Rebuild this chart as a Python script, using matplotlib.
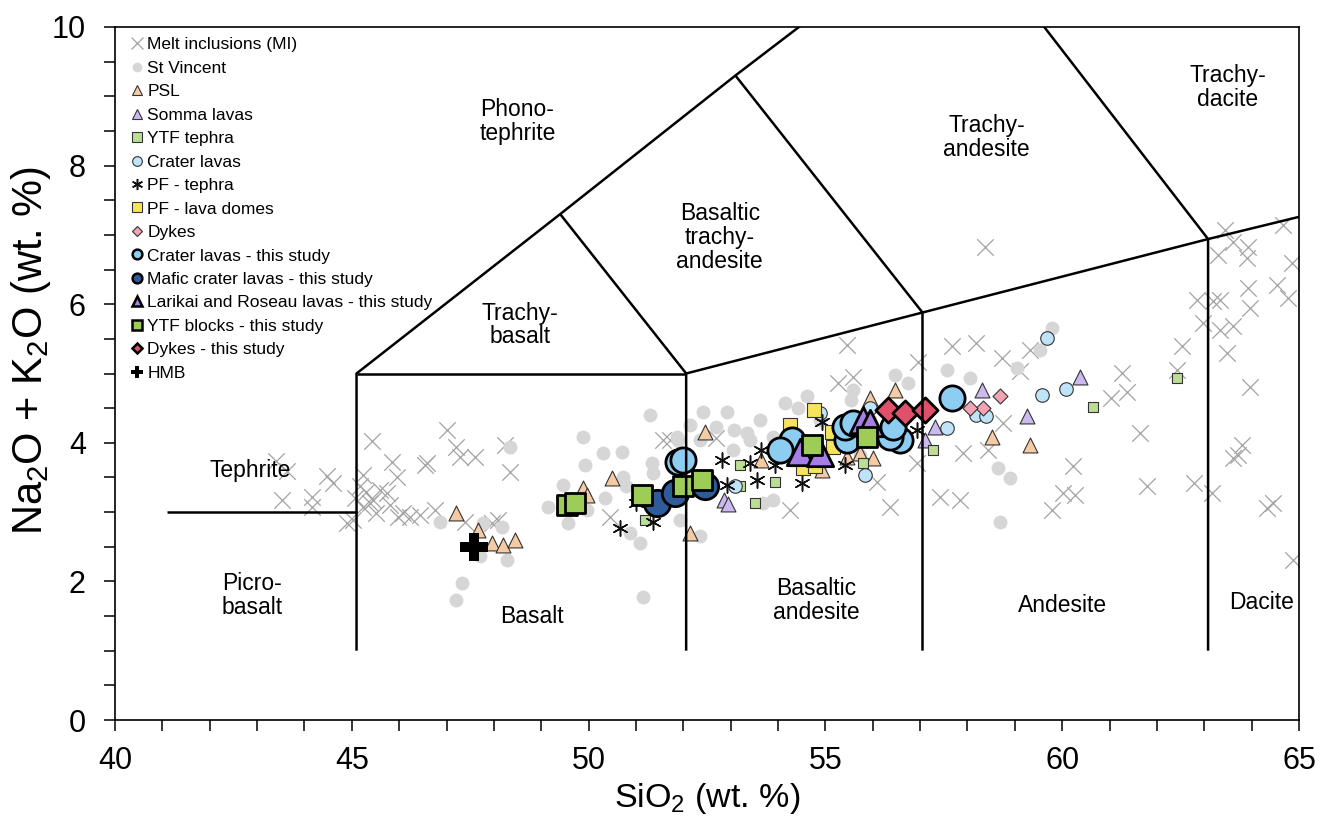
import matplotlib
matplotlib.use('Agg')
import matplotlib.pyplot as plt
from matplotlib.lines import Line2D

plt.rcParams['font.family'] = ['Liberation Sans', 'DejaVu Sans']
plt.rcParams['mathtext.fontset'] = 'custom'
plt.rcParams['mathtext.rm'] = 'Liberation Sans'
plt.rcParams['mathtext.it'] = 'Liberation Sans:italic'

# ---------------- data ----------------
mi_x = [43.39, 43.63, 43.52, 44.15, 44.47, 44.60, 44.15, 45.03, 45.42, 45.24, 45.45, 45.84, 45.95, 46.58,
        45.74, 45.52, 46.08, 46.44, 46.76, 45.24, 46.55, 47.00, 47.21, 47.28, 47.60, 48.23, 48.34, 45.17,
        45.38, 45.98, 46.23, 44.89, 47.95, 47.39, 48.09, 45.30, 45.60, 45.07, 45.81,
        50.45, 51.57, 51.72, 52.70,
        55.45, 55.58, 55.26, 54.25, 56.36, 56.08, 56.96, 56.93, 57.67, 58.19, 58.72, 59.11, 59.32, 57.91,
        58.43, 57.42, 57.84, 59.78, 58.75, 61.26, 61.04, 61.36, 61.64, 62.52, 62.42, 62.84, 62.97, 63.18,
        63.33, 63.33, 63.47, 63.61, 63.97, 63.29, 63.61, 63.92, 63.90, 63.92, 63.97, 64.53, 64.67, 64.85,
        64.77, 63.44, 60.23, 60.02, 60.27, 61.78, 62.79, 63.16, 63.79, 63.61, 63.71, 64.45, 64.32, 64.87,
        58.37]
mi_y = [3.74, 3.59, 3.17, 3.22, 3.52, 3.42, 3.08, 2.89, 4.02, 3.54, 3.17, 3.73, 3.51, 3.71,
        3.28, 2.99, 2.99, 2.96, 3.03, 3.07, 3.68, 4.18, 3.94, 3.80, 3.80, 3.97, 3.58, 3.37,
        3.13, 2.93, 2.93, 2.84, 2.84, 2.86, 2.89, 3.29, 3.32, 3.20, 3.10,
        2.93, 4.04, 4.04, 4.07,
        5.41, 4.95, 4.86, 3.03, 3.08, 3.44, 5.17, 3.71, 5.39, 5.44, 5.22, 5.03, 5.34, 3.85,
        3.90, 3.22, 3.17, 3.03, 4.29, 5.01, 4.65, 4.74, 4.14, 5.39, 5.05, 6.06, 5.73, 6.04,
        6.06, 5.63, 5.30, 5.68, 4.81, 6.71, 6.90, 6.83, 6.67, 6.23, 5.95, 6.28, 7.14, 6.59,
        6.09, 7.07, 3.66, 3.28, 3.25, 3.37, 3.42, 3.28, 3.97, 3.78, 3.82, 3.13, 3.06, 2.31,
        6.83]

sv_x = [48.34, 51.30, 52.42, 49.88, 50.30, 50.70, 49.92, 49.46, 49.14, 49.57, 49.96, 50.35, 50.73, 50.80,
        51.33, 51.89, 52.92, 53.06, 50.87, 51.09, 51.93, 51.15, 47.32, 47.21, 48.17, 48.27, 47.71, 46.86,
        47.77, 51.36, 52.35, 52.70, 53.34, 53.41, 54.15, 54.42, 54.61, 55.53, 55.58, 56.47, 56.74, 53.89,
        53.05, 51.86, 53.89, 53.68, 57.56, 58.05, 59.04, 59.53, 59.78, 58.64, 58.90, 58.69,
        53.62, 54.89, 55.94, 56.15, 52.35, 52.14, 54.89, 55.73]
sv_y = [3.94, 4.40, 4.45, 4.09, 3.85, 3.87, 3.68, 3.39, 3.08, 2.84, 3.03, 3.20, 3.51, 3.37,
        3.71, 4.04, 4.45, 4.18, 2.70, 2.55, 2.89, 1.78, 1.98, 1.73, 2.79, 2.31, 2.36, 2.86,
        2.84, 3.56, 2.65, 4.23, 4.14, 4.04, 4.57, 4.50, 4.67, 4.62, 4.76, 4.98, 4.86, 4.09,
        3.90, 4.09, 3.17, 3.13, 5.05, 4.94, 5.08, 5.34, 5.66, 3.64, 3.49, 2.86,
        4.33, 4.33, 4.33, 4.04, 4.04, 4.26, 3.61, 3.82]

psl_x = [47.21, 47.67, 47.95, 48.19, 48.45, 49.88, 49.96, 50.49, 52.46, 52.14, 53.65, 54.92, 55.73,
         56.01, 55.94, 56.47, 58.51, 59.32, 55.45]
psl_y = [2.98, 2.74, 2.55, 2.52, 2.60, 3.35, 3.25, 3.49, 4.16, 2.70, 3.75, 3.61, 3.85,
         3.78, 4.65, 4.76, 4.09, 3.97, 3.80]

somma_x = [58.30, 59.25, 57.31, 57.10, 60.38, 52.85, 52.95]
somma_y = [4.76, 4.38, 4.23, 4.04, 4.95, 3.17, 3.12]

ytf_x = [53.20, 53.94, 53.51, 51.19, 57.27, 55.79, 53.20, 62.42, 60.65]
ytf_y = [3.68, 3.44, 3.13, 2.89, 3.90, 3.71, 3.37, 4.93, 4.52]

crater_x = [59.67, 59.57, 60.09, 57.56, 58.19, 58.40, 55.84, 54.89, 55.94, 53.09]
crater_y = [5.51, 4.69, 4.78, 4.21, 4.40, 4.38, 3.54, 4.43, 4.50, 3.37]

pft_x = [50.66, 51.36, 51.01, 52.81, 53.55, 53.65, 53.41, 52.92, 53.94, 54.50, 55.41, 56.93, 54.92]
pft_y = [2.77, 2.86, 3.13, 3.75, 3.46, 3.90, 3.71, 3.39, 3.68, 3.42, 3.68, 4.18, 4.30]

pfd_x = [54.75, 54.25, 55.13, 55.17, 54.53, 54.78]
pfd_y = [4.47, 4.26, 4.16, 3.94, 3.63, 3.66]

dyke_x = [58.69, 58.33, 58.05]
dyke_y = [4.67, 4.50, 4.50]

cts_x = [57.67, 56.58, 56.36, 56.43, 55.45, 55.41, 55.59, 54.29, 54.04, 51.89, 51.99]
cts_y = [4.64, 4.04, 4.09, 4.23, 4.04, 4.23, 4.28, 4.04, 3.90, 3.73, 3.75]

mafic_x = [51.44, 51.82, 52.46]
mafic_y = [3.13, 3.27, 3.37]

lar_x = [54.46, 54.89, 55.79, 55.94]
lar_y = [3.87, 3.85, 4.33, 4.29]

ytfb_x = [49.54, 49.71, 51.12, 52.00, 52.39, 54.71, 55.87]
ytfb_y = [3.10, 3.13, 3.25, 3.37, 3.46, 3.97, 4.09]

dts_x = [56.33, 56.68, 57.10]
dts_y = [4.47, 4.43, 4.47]

hmb_x = [47.57]
hmb_y = [2.50]

# TAS classification boundaries (as drawn on the original figure)
tas_lines = [
    [(41.1, 3.0), (45.1, 3.0)],
    [(45.1, 1.0), (45.1, 5.0), (49.4, 7.3), (53.1, 9.3), (57.7, 11.7)],
    [(45.1, 5.0), (52.06, 5.0)],
    [(52.06, 1.0), (52.06, 5.0), (57.05, 5.88), (63.08, 6.94), (69.08, 7.94)],
    [(52.06, 5.0), (49.4, 7.3)],
    [(57.05, 1.0), (57.05, 5.88), (53.1, 9.3)],
    [(63.08, 1.0), (63.08, 6.94), (57.7, 11.7)],
]

field_names = ["Tephrite", "Picro-\nbasalt", "Basalt", "Basaltic\nandesite", "Andesite", "Dacite",
               "Trachy-\nbasalt", "Basaltic\ntrachy-\nandesite", "Phono-\ntephrite",
               "Trachy-\nandesite", "Trachy-\ndacite"]
field_x = [42.85, 42.9, 48.8, 54.8, 60.0, 64.22, 48.55, 52.77, 48.5, 58.4, 63.5]
field_y = [3.6, 1.8, 1.49, 1.73, 1.65, 1.69, 5.7, 6.96, 8.63, 8.41, 9.13]

# ---------------- figure ----------------
fig = plt.figure(figsize=(13.3, 8.26), dpi=100)
ax = fig.add_axes([115/1330, 1-720/826, 1184/1330, 693/826])
ax.set_xlim(40, 65)
ax.set_ylim(0, 10)

E = '#333333'
ax.scatter(mi_x, mi_y, marker='x', s=140, c='#a3a3a3', linewidths=0.9, zorder=2)
ax.scatter(sv_x, sv_y, marker='o', s=100, c='#d6d6d6', linewidths=0, zorder=3)
ax.scatter(psl_x, psl_y, marker='^', s=115, c='#f4cba4', edgecolors=E, linewidths=0.8, zorder=4)
ax.scatter(somma_x, somma_y, marker='^', s=115, c='#cbb9f0', edgecolors=E, linewidths=0.8, zorder=4)
ax.scatter(ytf_x, ytf_y, marker='s', s=55, c='#bcdd94', edgecolors=E, linewidths=0.8, zorder=4)
ax.scatter(crater_x, crater_y, marker='o', s=95, c='#bfe3f8', edgecolors=E, linewidths=0.8, zorder=4)
ax.scatter(pft_x, pft_y, marker=(6, 2, 0), s=120, c='#111111', linewidths=1.1, zorder=5)
ax.scatter(pfd_x, pfd_y, marker='s', s=90, c='#f8e45a', edgecolors=E, linewidths=0.8, zorder=5)
ax.scatter(dyke_x, dyke_y, marker='D', s=58, c='#f3a4b4', edgecolors=E, linewidths=0.8, zorder=5)
ax.scatter(cts_x, cts_y, marker='o', s=330, c='#8ecdf2', edgecolors='black', linewidths=2, zorder=6)
ax.scatter(mafic_x, mafic_y, marker='o', s=360, c='#2f5b9b', edgecolors='black', linewidths=2, zorder=6)
ax.scatter(lar_x, lar_y, marker='^', s=360, c='#a67fe6', edgecolors='black', linewidths=2, zorder=6)
ax.scatter(ytfb_x, ytfb_y, marker='s', s=210, c='#9dcd56', edgecolors='black', linewidths=2, zorder=6)
ax.scatter(dts_x, dts_y, marker='D', s=165, c='#e0506a', edgecolors='black', linewidths=2, zorder=6)
ax.scatter(hmb_x, hmb_y, marker='P', s=380, c='black', linewidths=0, zorder=7)

for seg in tas_lines:
    xs = [p[0] for p in seg]
    ys = [p[1] for p in seg]
    ax.plot(xs, ys, color='black', lw=1.8, zorder=8, solid_capstyle='butt')

for name, x, y in zip(field_names, field_x, field_y):
    ax.text(x, y, name, ha='center', va='center', fontsize=16.5, linespacing=1.05, zorder=9)

# ticks & labels
ax.set_xticks(range(40, 66, 5))
ax.set_xticks(range(40, 66, 1), minor=True)
ax.set_yticks(range(0, 11, 2))
ax.set_yticks([i * 0.5 for i in range(21)], minor=True)
ax.tick_params(which='both', direction='out', length=8, width=1.1)
ax.tick_params(axis='x', which='major', pad=11, labelsize=22)
ax.tick_params(axis='y', which='major', pad=13, labelsize=22)
for sp in ax.spines.values():
    sp.set_linewidth(1.2)

ax.set_xlabel(r'SiO$_\mathregular{2}$ (wt. %)', fontsize=24.5)
ax.set_ylabel(r'Na$_\mathregular{2}$O + K$_\mathregular{2}$O (wt. %)', fontsize=30)
ax.xaxis.set_label_coords((707 - 115) / 1184, -(781 - 720) / 693)
ax.yaxis.set_label_coords(-(115 - 53) / 1184, (720 - 350) / 693)

# legend
def h(marker, fc, ec, lw, ms):
    return Line2D([], [], ls='none', marker=marker, markerfacecolor=fc, markeredgecolor=ec,
                  markeredgewidth=lw, markersize=ms)

handles = [
    h('x', '#a3a3a3', '#a3a3a3', 0.9, 8),
    h('o', '#d6d6d6', '#d6d6d6', 0, 7),
    h('^', '#f4cba4', E, 0.8, 7),
    h('^', '#cbb9f0', E, 0.8, 7),
    h('s', '#bcdd94', E, 0.8, 6.5),
    h('o', '#bfe3f8', E, 0.8, 7),
    h((6, 2, 0), '#111111', '#111111', 1.1, 8),
    h('s', '#f8e45a', E, 0.8, 6.5),
    h('D', '#f3a4b4', E, 0.8, 5),
    h('o', '#8ecdf2', 'black', 1.8, 7),
    h('o', '#2f5b9b', 'black', 1.8, 7),
    h('^', '#a67fe6', 'black', 1.8, 7),
    h('s', '#9dcd56', 'black', 1.8, 6.5),
    h('D', '#e0506a', 'black', 1.8, 5),
    h('P', 'black', 'black', 0, 9),
]
labels = ['Melt inclusions (MI)', 'St Vincent', 'PSL', 'Somma lavas', 'YTF tephra', 'Crater lavas',
          'PF - tephra', 'PF - lava domes', 'Dykes', 'Crater lavas - this study',
          'Mafic crater lavas - this study', 'Larikai and Roseau lavas - this study',
          'YTF blocks - this study', 'Dykes - this study', 'HMB']
leg = ax.legend(handles, labels, loc='upper left', bbox_to_anchor=((130 - 115) / 1184, 1 - (37 - 27) / 693),
                frameon=False, fontsize=12.5, handlelength=0.8, handletextpad=0.2, labelspacing=0.48,
                borderaxespad=0, borderpad=0)
leg.set_zorder(10)

fig.savefig('out.png', dpi=100)
